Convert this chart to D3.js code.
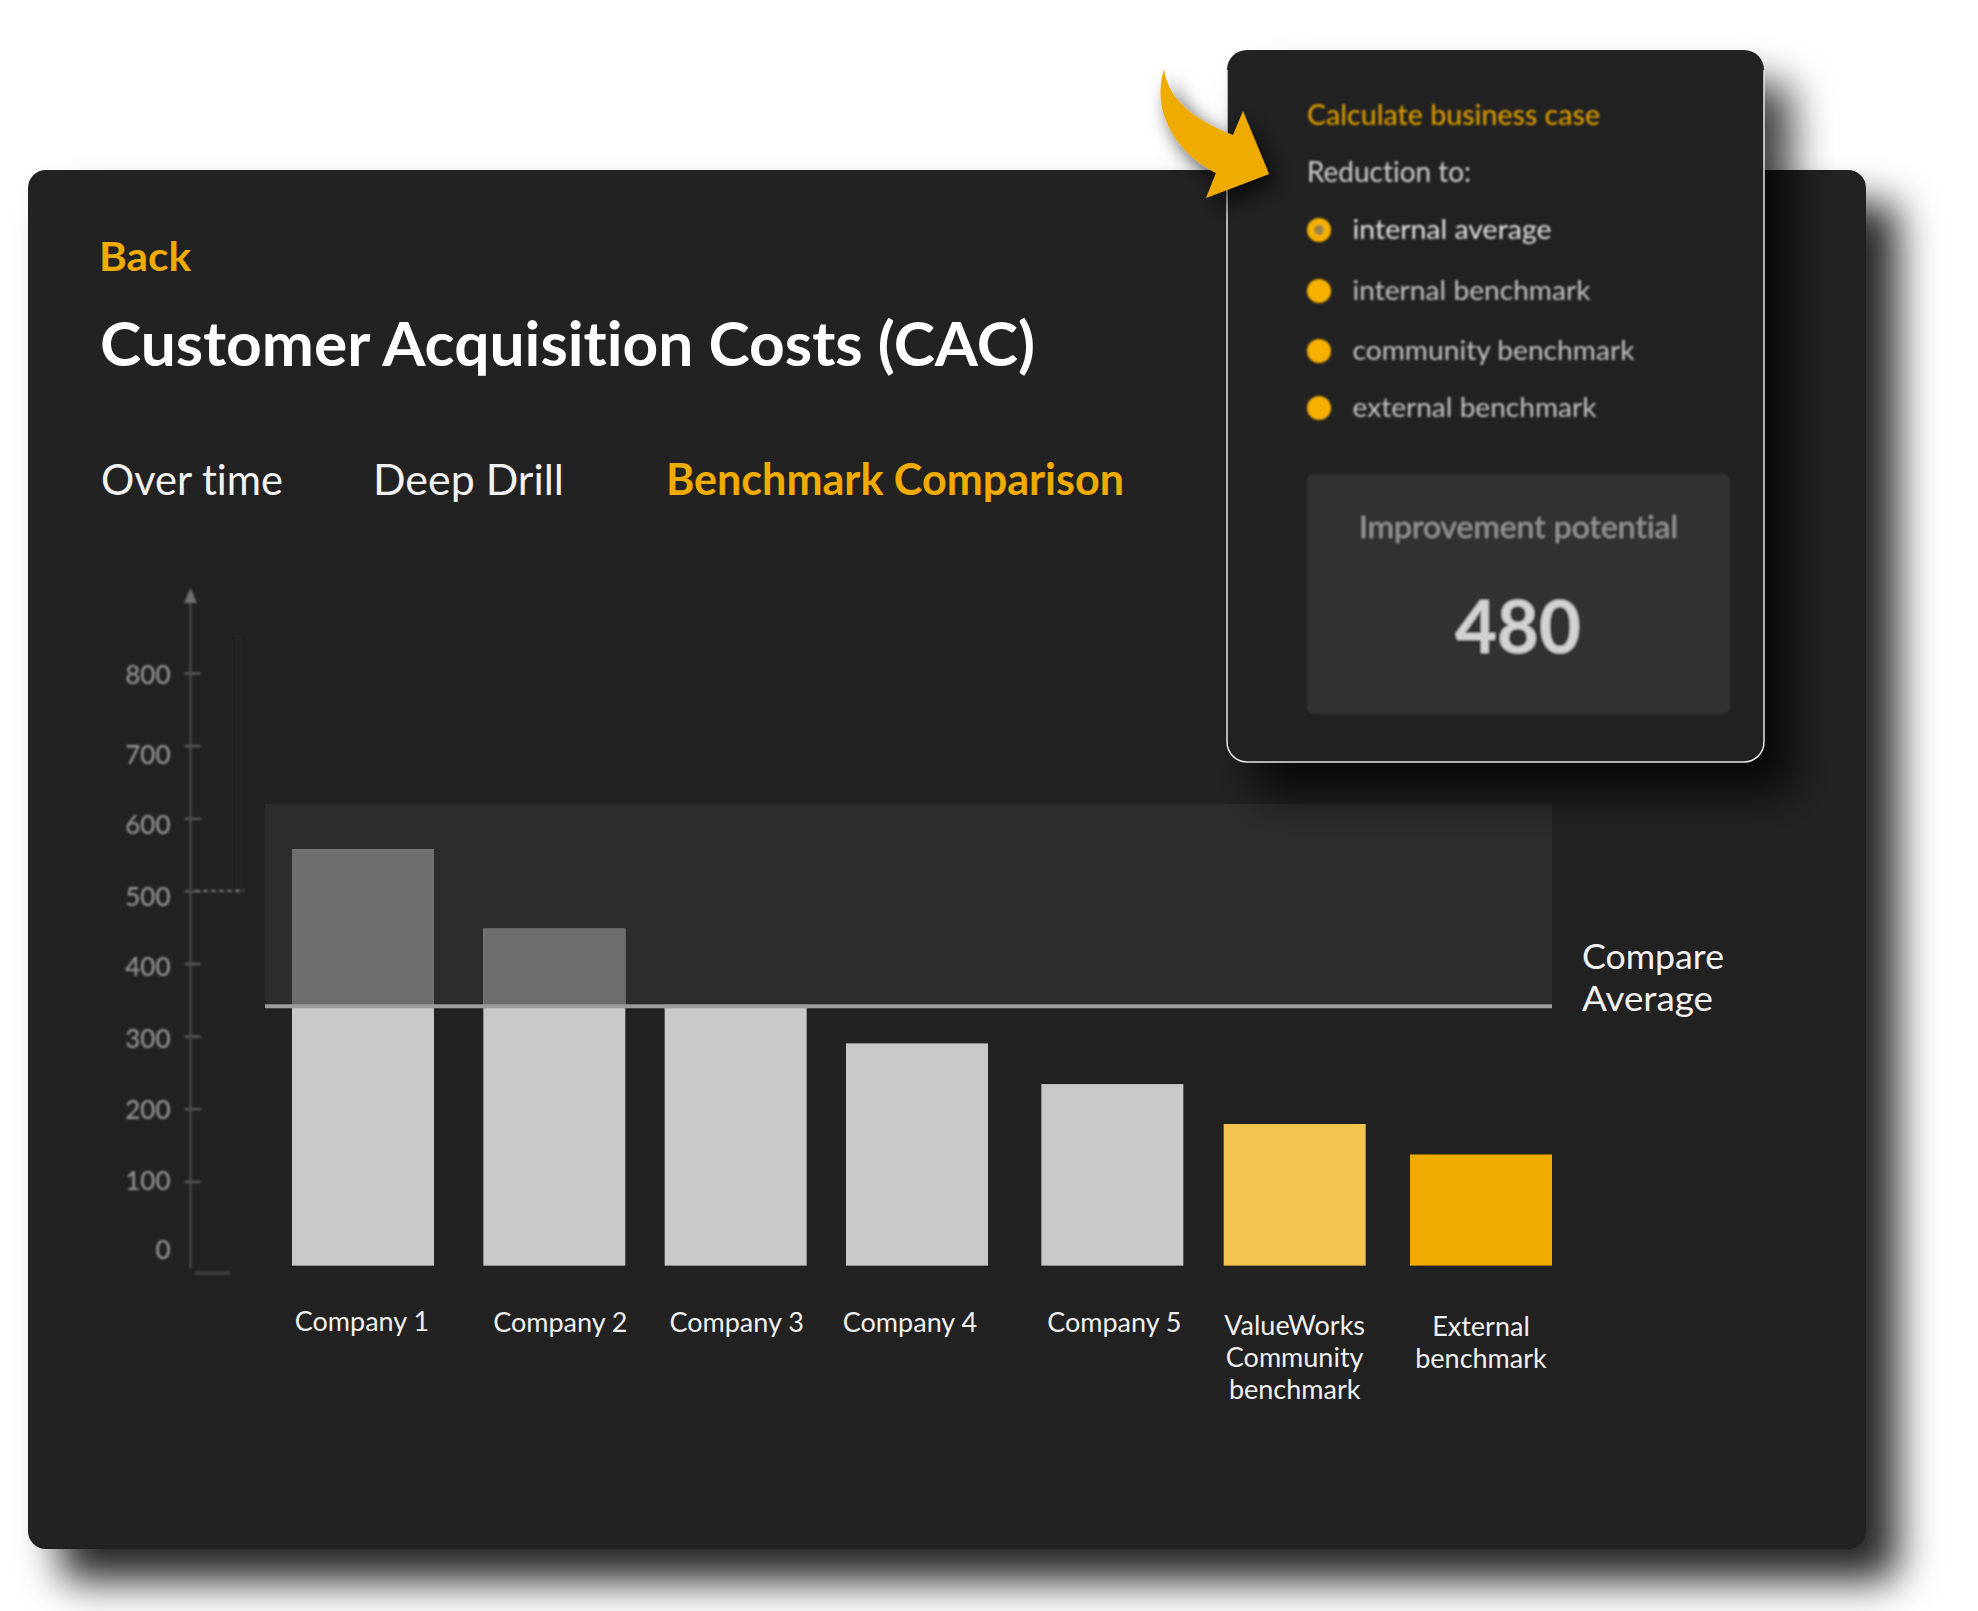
<!DOCTYPE html>
<html>
<head>
<meta charset="utf-8">
<script src="https://cdn.jsdelivr.net/npm/d3@7"></script>
<style>
  html, body { margin: 0; padding: 0; background: #fff; }
  svg { display: block; }
  text { font-family: Lato, sans-serif; font-variant-ligatures: none; }
</style>
</head>
<body>
<svg></svg>
<script>
// Values, on the chart's own axis
const companies = ['Company 1', 'Company 2', 'Company 3', 'Company 4', 'Company 5', 'ValueWorks Community benchmark', 'External benchmark'];
const cac = [557, 448, 343, 290, 234, 179, 137];
const barKinds = ['company', 'company', 'company', 'company', 'company', 'community', 'external'];
const companyAverage = 341;
const bandLimit = 620;
const barFloor = -16; // the bars stand a little below the axis zero
const axisTicks = [0, 100, 200, 300, 400, 500, 600, 700, 800];

const tabs = ['Over time', 'Deep Drill', 'Benchmark Comparison'];
const radioOptions = ['internal average', 'internal benchmark', 'community benchmark', 'external benchmark'];
const improvementPotential = 480;

const amber = '#f0ab00';
const panelColor = '#202020';

const svg = d3.select('svg').attr('width', 1978).attr('height', 1611);
const defs = svg.append('defs');

function addShadow(id, dx, dy, blur, opacity) {
  defs.append('filter')
    .attr('id', id)
    .attr('filterUnits', 'userSpaceOnUse')
    .attr('x', 0).attr('y', 0).attr('width', 1978).attr('height', 1611)
    .append('feDropShadow')
    .attr('dx', dx).attr('dy', dy)
    .attr('stdDeviation', blur)
    .attr('flood-color', '#000')
    .attr('flood-opacity', opacity);
}
function addBlur(id, amount) {
  defs.append('filter')
    .attr('id', id)
    .attr('filterUnits', 'userSpaceOnUse')
    .attr('x', 0).attr('y', 0).attr('width', 1978).attr('height', 1611)
    .append('feGaussianBlur')
    .attr('stdDeviation', amount);
}
addShadow('panelShadow', 32, 32, 20, 0.85);
addShadow('popupShadow', 28, 32, 20, 0.75);
addShadow('arrowShadow', 8, 10, 10, 0.7);
addBlur('softAxis', 1.3);
addBlur('softText', 1);

// Helper: text squeezed to the width it has in the picture
function label(parent, str, x, y, size, width, color, weight) {
  return parent.append('text')
    .attr('x', x).attr('y', y)
    .attr('font-size', size)
    .attr('font-weight', weight || 400)
    .attr('fill', color)
    .attr('textLength', width)
    .attr('lengthAdjust', 'spacingAndGlyphs')
    .text(str);
}

// Main panel
svg.append('rect')
  .attr('x', 28).attr('y', 170)
  .attr('width', 1838).attr('height', 1379)
  .attr('rx', 18)
  .attr('fill', panelColor)
  .attr('filter', 'url(#panelShadow)');

// Header
label(svg, 'Back', 99, 271, 41, 92, amber, 700);
label(svg, 'Customer Acquisition Costs (CAC)', 100, 366, 62, 935, '#fff', 700);

const tabX = [101, 373, 666];
const tabW = [182, 191, 458];
svg.selectAll('.tab')
  .data(tabs)
  .enter()
  .append('text')
  .attr('class', 'tab')
  .attr('x', (d, i) => tabX[i])
  .attr('y', 495)
  .attr('font-size', 43)
  .attr('font-weight', (d, i) => i === 2 ? 700 : 400)
  .attr('fill', (d, i) => i === 2 ? amber : '#f2f2f2')
  .attr('textLength', (d, i) => tabW[i])
  .attr('lengthAdjust', 'spacingAndGlyphs')
  .text(d => d);

// Scales
const y = d3.scaleLinear().domain([0, 800]).range([1254, 673]);
const x = d3.scaleBand().domain(companies).range([292, 1552]).paddingInner(0.238).paddingOuter(0);
const barColor = d3.scaleOrdinal().domain(['company', 'community', 'external']).range(['#c9c9c9', '#f5c550', amber]);

// The picture is hand laid out: bars and labels drift a bit from even spacing
const barNudge = new Map(companies.map((c, i) => [c, [0, 5, 0, -5, 4, 0, 0][i]]));
const barX = name => x(name) + barNudge.get(name);

// Tick labels sit a bit below their ticks in the upper half of the axis
const tickLabelShift = new Map(axisTicks.map((t, i) => [t, [-5, -1, 0, 2, 3, 5, 6, 8, 1][i]]));

// Blurred y axis
const axisGroup = svg.append('g').attr('filter', 'url(#softAxis)');
const yAxis = axisGroup.append('g')
  .attr('transform', 'translate(190.5,0)')
  .call(d3.axisLeft(y).tickValues(axisTicks).tickFormat(d3.format('d')));
yAxis.select('.domain').remove();
yAxis.selectAll('.tick line')
  .attr('x1', -6).attr('x2', 10)
  .attr('stroke', '#666').attr('stroke-width', 2)
  .attr('display', d => d === 0 ? 'none' : null);
yAxis.selectAll('.tick text')
  .attr('x', -20)
  .attr('y', d => tickLabelShift.get(d))
  .attr('dy', '0.36em')
  .attr('fill', '#969696')
  .attr('font-size', 26)
  .attr('font-weight', 500)
  .attr('font-family', 'Roboto');

axisGroup.append('line')
  .attr('x1', 190.5).attr('x2', 190.5)
  .attr('y1', 600).attr('y2', 1268)
  .attr('stroke', '#4f4f4f').attr('stroke-width', 2);
axisGroup.append('path')
  .attr('d', 'M190.5,588 L197,603 H184 Z')
  .attr('fill', '#707070');
axisGroup.append('line')
  .attr('x1', 195).attr('x2', 230)
  .attr('y1', 1273).attr('y2', 1273)
  .attr('stroke', '#444').attr('stroke-width', 3);
axisGroup.append('rect')
  .attr('x', 235).attr('y', 635)
  .attr('width', 8).attr('height', y(500) - 635)
  .attr('fill', '#242424');
axisGroup.append('line')
  .attr('x1', 195).attr('x2', 244)
  .attr('y1', y(500)).attr('y2', y(500))
  .attr('stroke', '#777').attr('stroke-width', 2)
  .attr('stroke-dasharray', '5 3');

// Band between the average and the top of the comparison
svg.append('rect')
  .attr('x', x.range()[0] - 27)
  .attr('y', y(bandLimit))
  .attr('width', x.range()[1] - x.range()[0] + 27)
  .attr('height', y(companyAverage) - y(bandLimit))
  .attr('fill', '#2c2c2c');

const bars = companies.map((name, i) => ({ name, value: cac[i], kind: barKinds[i] }));

// Full bars
svg.selectAll('.bar')
  .data(bars)
  .enter()
  .append('rect')
  .attr('class', 'bar')
  .attr('x', d => barX(d.name))
  .attr('y', d => y(d.value))
  .attr('width', x.bandwidth())
  .attr('height', d => y(barFloor) - y(d.value))
  .attr('fill', d => barColor(d.kind));

// Part of a bar above the average is dimmed
svg.selectAll('.excess')
  .data(bars.filter(d => d.value > companyAverage + 5))
  .enter()
  .append('rect')
  .attr('class', 'excess')
  .attr('x', d => barX(d.name))
  .attr('y', d => y(d.value))
  .attr('width', x.bandwidth())
  .attr('height', d => y(companyAverage) - y(d.value))
  .attr('fill', '#6e6e6e');

// Average line
svg.append('line')
  .attr('x1', x.range()[0] - 27).attr('x2', x.range()[1])
  .attr('y1', y(companyAverage)).attr('y2', y(companyAverage))
  .attr('stroke', '#9c9c9c').attr('stroke-width', 4);

label(svg, 'Compare', 1582, 969, 35, 142, '#f2f2f2');
label(svg, 'Average', 1582, 1011, 35, 131, '#f2f2f2');

// Category labels
const labelNudge = [-1, 11, 1, -12, 6, 0, 0];
const labelLines = [['Company 1'], ['Company 2'], ['Company 3'], ['Company 4'], ['Company 5'], ['ValueWorks', 'Community', 'benchmark'], ['External', 'benchmark']];
const labelTop = [1331, 1332, 1332, 1332, 1332, 1335, 1336];

svg.selectAll('.cat')
  .data(companies)
  .enter()
  .append('text')
  .attr('class', 'cat')
  .attr('text-anchor', 'middle')
  .attr('font-size', 27)
  .attr('fill', '#f0f0f0')
  .each(function (d, i) {
    const cx = x(d) + x.bandwidth() / 2 + labelNudge[i];
    d3.select(this).selectAll('tspan')
      .data(labelLines[i])
      .enter()
      .append('tspan')
      .attr('x', cx)
      .attr('y', (line, j) => labelTop[i] + j * 32)
      .text(line => line);
  });

// Popup card
svg.append('rect')
  .attr('x', 1227).attr('y', 50)
  .attr('width', 537).attr('height', 712)
  .attr('rx', 20)
  .attr('fill', panelColor)
  .attr('filter', 'url(#popupShadow)');
svg.append('path')
  .attr('d', 'M1227,70 V742 a20,20 0 0 0 20,20 H1744 a20,20 0 0 0 20,-20 V70')
  .attr('fill', 'none')
  .attr('stroke', '#e8e8e8')
  .attr('stroke-width', 1.5);

const popup = svg.append('g').attr('filter', 'url(#softText)');
label(popup, 'Calculate business case', 1307, 125, 28, 293, '#dc9c06', 500);
label(popup, 'Reduction to:', 1307, 182, 28, 164, '#d0d0d0');

const radioY = d3.scaleOrdinal().domain(radioOptions).range([230, 291, 351, 408]);
const radioW = [199, 238, 282, 244];
popup.selectAll('.radio')
  .data(radioOptions)
  .enter()
  .append('circle')
  .attr('class', 'radio')
  .attr('cx', 1319)
  .attr('cy', d => radioY(d))
  .attr('r', 12)
  .attr('fill', '#f5b000');
popup.append('circle')
  .attr('cx', 1319).attr('cy', radioY(radioOptions[0]))
  .attr('r', 5)
  .attr('fill', '#9a8445');
popup.selectAll('.option')
  .data(radioOptions)
  .enter()
  .append('text')
  .attr('class', 'option')
  .attr('x', 1352.5)
  .attr('y', d => radioY(d) + 9)
  .attr('font-size', 27)
  .attr('fill', (d, i) => i === 0 ? '#e2e2e2' : '#c4c4c4')
  .attr('textLength', (d, i) => radioW[i])
  .attr('lengthAdjust', 'spacingAndGlyphs')
  .text(d => d);

popup.append('rect')
  .attr('x', 1307).attr('y', 474)
  .attr('width', 423).attr('height', 240)
  .attr('rx', 6)
  .attr('fill', '#323232');
label(popup, 'Improvement potential', 1359, 538, 30, 319, '#9a9a9a');
popup.append('text')
  .attr('x', 1518).attr('y', 653)
  .attr('text-anchor', 'middle')
  .attr('font-family', 'Roboto')
  .attr('font-size', 72)
  .attr('font-weight', 700)
  .attr('fill', '#d2d2d2')
  .text(improvementPotential);

// Arrow pointing at the popup
svg.append('path')
  .attr('d', 'M1164,69 C1168,100 1195,120 1233,135 L1243,111 L1269,174 L1206,198 L1216,173 C1180,155 1150,115 1164,69 Z')
  .attr('fill', amber)
  .attr('filter', 'url(#arrowShadow)');
</script>
</body>
</html>
